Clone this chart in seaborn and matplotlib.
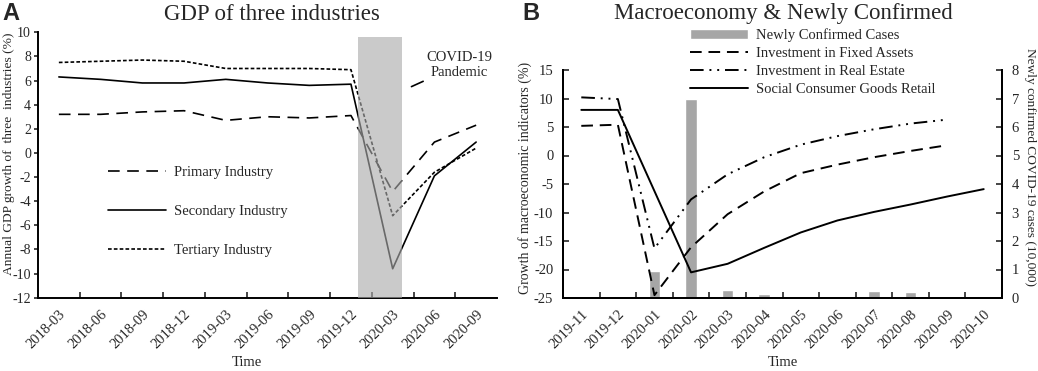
import numpy as np
import pandas as pd
import matplotlib
matplotlib.use('Agg')
import matplotlib.pyplot as plt
import seaborn as sns

# ---- data: panel A (quarterly cumulative GDP growth, %)
quarters = ['2018-03', '2018-06', '2018-09', '2018-12', '2019-03', '2019-06',
            '2019-09', '2019-12', '2020-03', '2020-06', '2020-09']
primary = [3.2, 3.2, 3.4, 3.5, 2.7, 3.0, 2.9, 3.1, -3.2, 0.9, 2.3]
secondary = [6.3, 6.1, 5.8, 5.8, 6.1, 5.8, 5.6, 5.7, -9.6, -1.9, 0.9]
tertiary = [7.5, 7.6, 7.7, 7.6, 7.0, 7.0, 7.0, 6.9, -5.2, -1.6, 0.4]

# ---- data: panel B (monthly)
months = ['2019-11', '2019-12', '2020-01', '2020-02', '2020-03', '2020-04',
          '2020-05', '2020-06', '2020-07', '2020-08', '2020-09', '2020-10']
new_cases = [0.0, 0.0, 0.95, 6.97, 0.27, 0.15, 0.01, 0.02, 0.25, 0.21, 0.05, 0.06]
fixed_assets = [5.2, 5.4, -24.5, -16.1, -10.3, -6.3, -3.1, -1.6, -0.3, 0.8, 1.8, np.nan]
real_estate = [10.2, 9.9, -16.3, -7.7, -3.3, -0.3, 1.9, 3.4, 4.6, 5.6, 6.3, np.nan]
retail = [8.0, 8.0, np.nan, -20.5, -19.0, -16.2, -13.5, -11.4, -9.9, -8.6, -7.2, -5.9]

sns.set_theme(style='white')
plt.rcParams['font.family'] = ['Liberation Serif', 'DejaVu Serif']
plt.rcParams['axes.unicode_minus'] = False
plt.rcParams['font.size'] = 10

W, H = 1038, 371
fig = plt.figure(figsize=(W / 100, H / 100), dpi=100)
axA = fig.add_axes([38 / W, 1 - 297.7 / H, 459 / W, 265.4 / H])
axB = fig.add_axes([563 / W, 1 - 298 / H, 439 / W, 228 / H])
axB2 = axB.twinx()

LW = 1.2
styles_A = {
    'Primary Industry': (primary, (0, (7, 4.5))),
    'Secondary Industry': (secondary, '-'),
    'Tertiary Industry': (tertiary, (0, (2.2, 1.3))),
}
xA = np.arange(len(quarters))
for name, (vals, ls) in styles_A.items():
    sns.lineplot(x=xA, y=vals, ax=axA, color='black', lw=LW, linestyle=ls, label=name, legend=False)

# covid shading drawn over the lines
axA.fill_between([7.17, 8.22], -12, 9.6, color='#aaaaaa', alpha=0.62, lw=0, zorder=5)
axA.annotate('COVID-19\nPandemic', xy=(8.42, 5.45), xytext=(9.6, 7.3),
             ha='center', va='center', fontsize=10.5, linespacing=1.15,
             arrowprops=dict(arrowstyle='-', color='black', lw=1.2, shrinkA=0, shrinkB=1))

axA.set_xlim(-0.5, len(quarters) - 0.5)
axA.set_ylim(-12, 10)
axA.set_yticks(np.arange(-12, 11, 2))
axA.set_xticks(xA)
axA.set_xticklabels(quarters, rotation=45, ha='right', rotation_mode='anchor')
axA.set_xticks(np.arange(0.5, len(quarters) - 0.5, 1), minor=True)
axA.tick_params(axis='x', which='major', length=0, pad=7, labelsize=10.5)
axA.tick_params(axis='x', which='minor', length=4, width=1.2, direction='in', bottom=True)
axA.tick_params(axis='y', length=3, width=1.2, direction='out', left=True, pad=2, labelsize=10)
for s in ['top', 'right']:
    axA.spines[s].set_visible(False)
for s in ['left', 'bottom']:
    axA.spines[s].set_linewidth(1.4)
    axA.spines[s].set_color('black')
axA.set_xlabel('')
axA.set_ylabel('')
axA.legend(loc='upper left', bbox_to_anchor=(108 / W, 1 - 166 / H), bbox_transform=fig.transFigure,
           frameon=False, fontsize=10.5, handlelength=4.0, handletextpad=0.5,
           labelspacing=1.75, borderpad=0, borderaxespad=0)

# ---- panel B
xB = np.arange(len(months))
sns.barplot(x=months, y=new_cases, ax=axB2, color='#a6a6a6', width=0.32,
            saturation=1, label='Newly Confirmed Cases', legend=False)
if axB2.get_legend() is not None:
    axB2.get_legend().remove()
styles_B = {
    'Investment in Fixed Assets': (fixed_assets, (0, (6, 3.5))),
    'Investment in Real Estate': (real_estate, (0, (7, 3, 1, 3, 1, 3))),
    'Social Consumer Goods Retail': (retail, '-'),
}
for name, (vals, ls) in styles_B.items():
    d = pd.DataFrame({'x': xB, 'y': vals}).dropna()
    sns.lineplot(data=d, x='x', y='y', ax=axB, color='black', lw=1.4, linestyle=ls, label=name, legend=False)

axB.set_zorder(axB2.get_zorder() + 1)
axB.patch.set_visible(False)

axB.set_xlim(-0.5, len(months) - 0.5)
axB.set_ylim(-25, 15)
axB.set_yticks(np.arange(-25, 16, 5))
axB2.set_ylim(0, 8)
axB2.set_yticks(np.arange(0, 9, 1))
axB.set_xticks(xB)
axB.set_xticklabels(months, rotation=45, ha='right', rotation_mode='anchor')
axB.set_xticks(np.arange(0.5, len(months) - 0.5, 1), minor=True)
axB.tick_params(axis='x', which='major', length=0, pad=7, labelsize=10.5)
axB.tick_params(axis='x', which='minor', length=4, width=1.2, direction='in', bottom=True)
axB.tick_params(axis='y', length=4, width=1.2, direction='in', left=True, pad=7, labelsize=10.5)
axB2.tick_params(axis='y', length=4, width=1.2, direction='in', right=True, pad=7, labelsize=10.5)
for ax in (axB, axB2):
    ax.set_xlabel('')
    ax.set_ylabel('')
    ax.spines['top'].set_visible(False)
    for s in ['left', 'bottom', 'right']:
        ax.spines[s].set_linewidth(1.4)
        ax.spines[s].set_color('black')

hb, lb = axB2.get_legend_handles_labels()
hl, ll = axB.get_legend_handles_labels()
axB.legend(hb + hl, lb + ll, loc='upper left', bbox_to_anchor=(690 / W, 1 - 28 / H),
           bbox_transform=fig.transFigure, frameon=False, fontsize=10.5,
           handlelength=4.0, handletextpad=0.5, labelspacing=0.33, borderpad=0, borderaxespad=0)

# axis labels
fig.text(9 / W, 1 - 154 / H, 'Annual GDP growth of  three  industries (%)', rotation=90,
         ha='center', va='center', fontsize=9.7)
fig.text(247 / W, 1 - 362 / H, 'Time', ha='center', va='center', fontsize=10.5)
fig.text(525 / W, 1 - 178 / H, 'Growth of macroeconomic indicators (%)', rotation=90,
         ha='center', va='center', fontsize=10)
fig.text(1030 / W, 1 - 167 / H, 'Newly confirmed COVID-19 cases (10,000)', rotation=270,
         ha='center', va='center', fontsize=9.6)
fig.text(783 / W, 1 - 362 / H, 'Time', ha='center', va='center', fontsize=10.5)

# titles and panel letters
fig.text(272 / W, 1 - 14 / H, 'GDP of three industries', ha='center', va='center', fontsize=16.5)
fig.text(783 / W, 1 - 14 / H, 'Macroeconomy & Newly Confirmed', ha='center', va='center', fontsize=16.5)
fig.text(2 / W, 1 - 2 / H, 'A', ha='left', va='top', fontsize=17, fontweight='bold', family='Liberation Sans')
fig.text(522 / W, 1 - 2 / H, 'B', ha='left', va='top', fontsize=17, fontweight='bold', family='Liberation Sans')

fig.savefig('out.png', dpi=100)
